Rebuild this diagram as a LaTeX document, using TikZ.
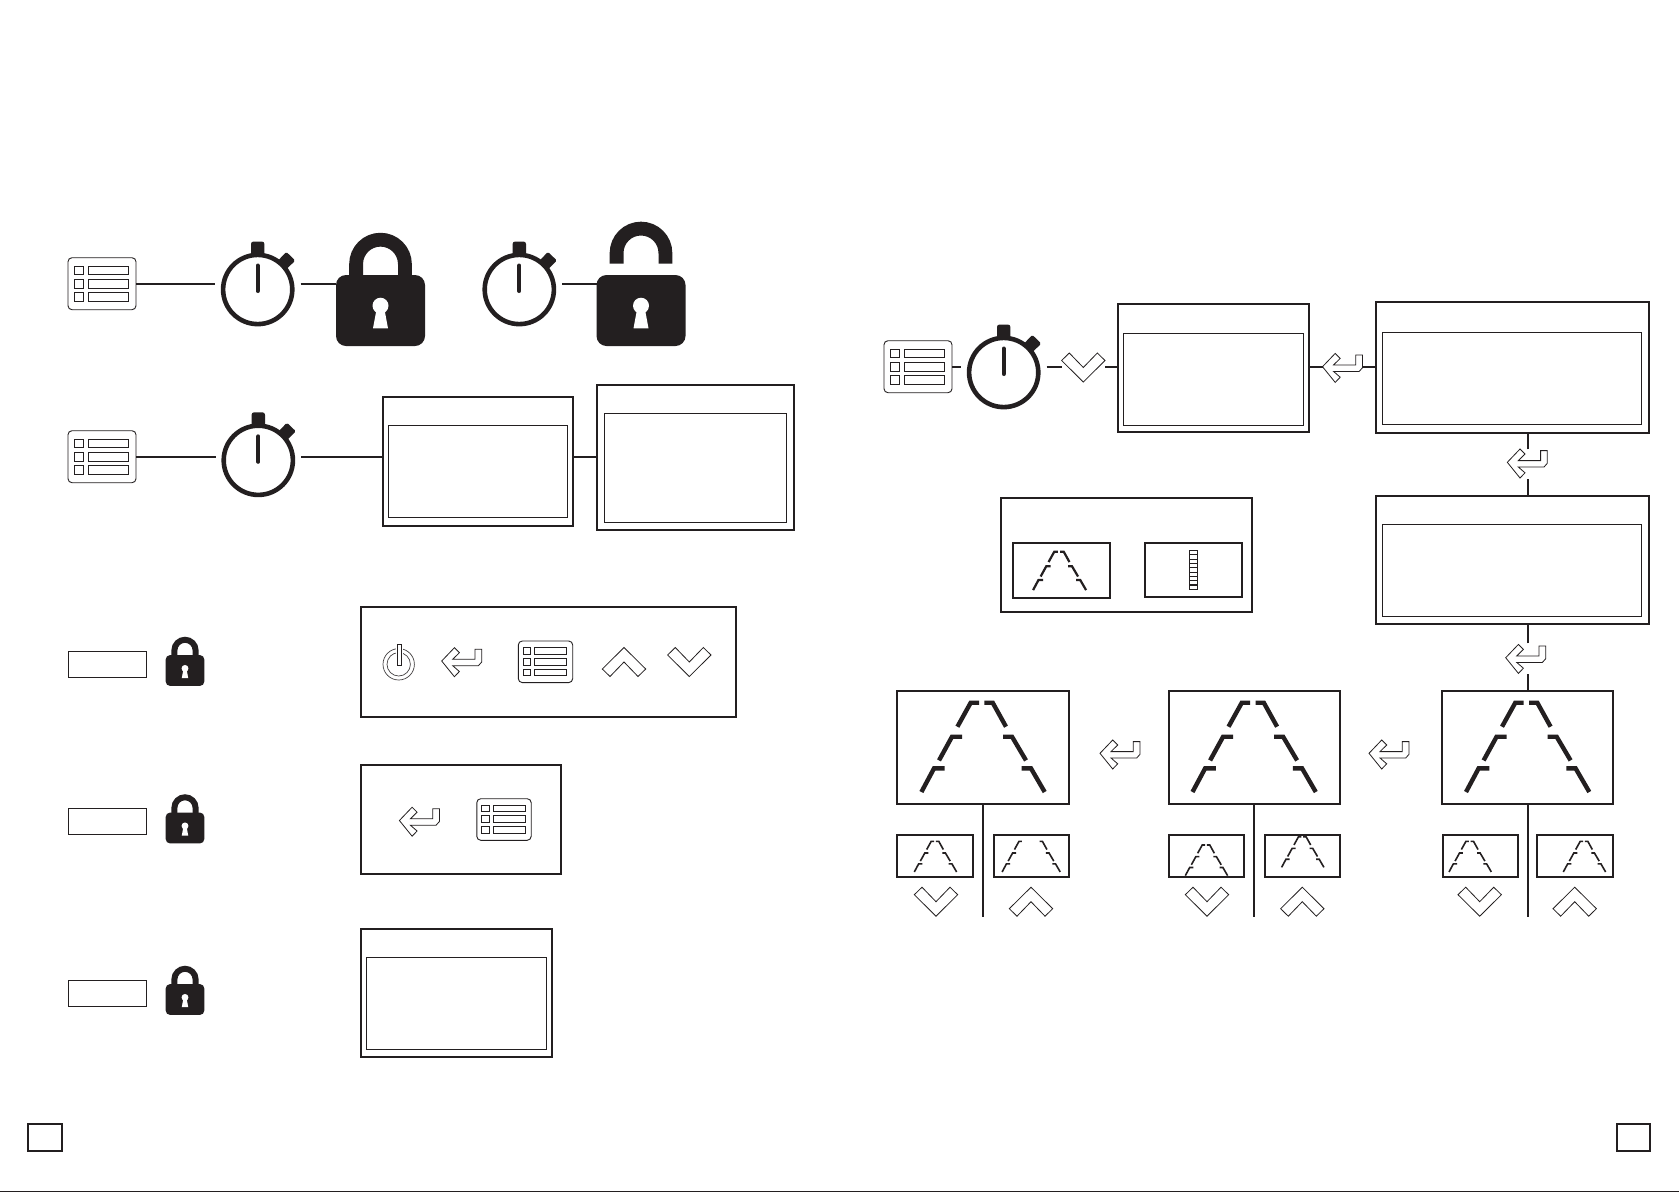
\documentclass[tikz,border=0pt]{standalone}
\usetikzlibrary{calc}
\definecolor{ink}{HTML}{231F20}
\tikzset{
  outerbox/.style={draw=ink,line width=2pt,fill=white,inner sep=0pt},
  innerbox/.style={draw=ink,line width=1pt,inner sep=0pt},
  conn/.style={draw=ink,line width=1.7pt},
  vconn/.style={draw=ink,line width=2pt},
  iconline/.style={draw=ink,line width=.8pt,fill=white,line join=miter},
  pics/menukey/.style={code={
    \draw[iconline,rounded corners=4pt,line width=.9pt] (-34,-26) rectangle (34,26);
    \foreach \ya/\yb in {-17.7/-9.7,-4.7/4.3,9/17.3}{
      \draw[ink,line width=1pt] (-27.7,\ya) rectangle (-18.3,\yb);
      \draw[ink,line width=1pt] (-13.7,\ya) rectangle (26.7,\yb);
    }
    \coordinate (-r) at (34,0);
  }},
  pics/watch/.style={code={
    \fill[ink,rounded corners=2.5pt] (-6.7,-33) -- (-6.7,-48) -- (6.7,-48) -- (6.7,-33) -- cycle;
    \fill[ink,rounded corners=1.5pt] (17,-25.4) -- (28.6,-37.6) -- (37.6,-29) -- (25.4,-17) -- cycle;
    \draw[ink,line width=4.6pt,fill=white] (0,0) circle (34.6);
    \draw[ink,line width=4pt,line cap=round] (0,-24) -- (0,1.5);
    \coordinate (-l) at (-42.7,-5.8);
    \coordinate (-r) at (42.8,-5.8);
  }},
  pics/lockclosed/.style={code={
    \begin{scope}[scale=#1]
      \draw[ink,line width={13.8pt*#1}] (-24.4,-30) -- (-24.4,-46.4) arc[start angle=180,end angle=360,radius=24.4] -- (24.4,-30);
      \fill[ink,rounded corners={10pt*#1}] (-44.5,-35.5) rectangle (44.5,35.5);
      \fill[white] (0,-4.8) circle (8);
      \fill[white] (-3.8,-2) -- (3.8,-2) -- (7.5,17.8) -- (-7.5,17.8) -- cycle;
    \end{scope}
    \coordinate (-l) at (-44.5,-26.8);
  }},
  pics/lockopen/.style={code={
    \draw[ink,line width=13.8pt] (-24.4,-47) -- (-24.4,-57.5) arc[start angle=180,end angle=360,radius=24.4] -- (24.4,-47);
    \fill[ink,rounded corners=10pt] (-44.5,-35.5) rectangle (44.5,35.5);
    \fill[white] (0,-4.8) circle (8);
    \fill[white] (-3.8,-2) -- (3.8,-2) -- (7.5,17.8) -- (-7.5,17.8) -- cycle;
    \coordinate (-l) at (-44.5,-26.8);
  }},
  pics/enterkey/.style={code={
    \draw[iconline] (0,0) -- (12.7,-13.3) -- (17.7,-8.3) -- (11,-1.7) -- (33.3,-1.7) -- (33.3,-11.7) -- (40,-11.7) -- (40,1) -- (36.7,4.7) -- (11,4.7) -- (17.7,10.5) -- (12.7,15.7) -- cycle;
    \coordinate (-l) at (0,0);
    \coordinate (-r) at (40,0);
  }},
  pics/chevup/.style={code={
    \draw[iconline] (0,-14.5) -- (-21.7,7) -- (-14,14.5) -- (0,0) -- (14,14.5) -- (21.7,7) -- cycle;
  }},
  pics/chevdown/.style={code={
    \draw[iconline] (0,14.5) -- (-21.7,-7) -- (-14,-14.5) -- (0,0) -- (14,-14.5) -- (21.7,-7) -- cycle;
    \coordinate (-l) at (-21.7,-.8);
    \coordinate (-r) at (21.7,-.8);
  }},
  pics/road/.style n args={3}{code={
    \begin{scope}[shift={(-#3,0)}]
      \begin{scope}[scale=#1]
        \draw[ink,line width=#2pt] (-24.3,24) -- (-11,0) -- (-2.7,0);
        \draw[ink,line width=#2pt] (-42.7,57.7) -- (-29.7,34) -- (-19.7,34);
        \draw[ink,line width=#2pt] (-60.3,89.3) -- (-47.7,65.7) -- (-37,65.7);
      \end{scope}
    \end{scope}
    \begin{scope}[shift={(#3,0)}]
      \begin{scope}[scale=#1]
        \draw[ink,line width=#2pt] (24.3,24) -- (11,0) -- (2.7,0);
        \draw[ink,line width=#2pt] (44.3,57.7) -- (30.3,34) -- (21.3,34);
        \draw[ink,line width=#2pt] (63,89.3) -- (49.3,65.7) -- (40,65.7);
      \end{scope}
    \end{scope}
  }},
}
\newcommand{\rectnode}[6]{%
  \pgfmathsetmacro\rcx{(#3+#5)/2}%
  \pgfmathsetmacro\rcy{(#4+#6)/2}%
  \pgfmathsetmacro\rww{#5-#3-.6}%
  \pgfmathsetmacro\rhh{#6-#4-.6}%
  \node[#1,minimum width=\rww pt,minimum height=\rhh pt] (#2) at (\rcx,\rcy) {};}
\begin{document}
\begin{tikzpicture}[x=1pt,y=-1pt]
\useasboundingbox (0,0) rectangle (1679,1192);
\fill[white] (0,0) rectangle (1679,1192);
% bottom rule and page boxes
\fill[ink] (0,1190.5) rectangle (1679,1192);
\rectnode{outerbox,line width=2.3pt}{pageL}{28}{1124}{62}{1151}
\rectnode{outerbox,line width=2.3pt}{pageR}{1616.5}{1124}{1650}{1151}

% row 1
\pic (m1) at (102,283.7) {menukey};
\pic (s1) at (257.7,289.5) {watch};
\pic (l1) at (380.5,310.5) {lockclosed=1};
\draw[conn] (m1-r) -- (m1-r -| s1-l);
\draw[conn] (s1-r) -- (l1-l);
\pic (s2) at (519.3,289.5) {watch};
\pic (l2) at (641,310.5) {lockopen};
\draw[conn] (s2-r) -- (l2-l);

% row 2
\pic (m2) at (102,456.7) {menukey};
\pic (s3) at (258.3,460.3) {watch};
\draw[conn] (m2-r) -- (m2-r -| s3-l);
\rectnode{outerbox}{a}{383}{397}{573.5}{526.5}
\rectnode{innerbox}{ai}{388}{425}{567.5}{518}
\rectnode{outerbox}{b}{596.5}{384.5}{794}{530.5}
\rectnode{innerbox}{bi}{604}{413}{787}{522.6}
\draw[conn] (m2-r -| s3-r) -- (m2-r -| a.west);
\draw[conn] (m2-r -| a.east) -- (m2-r -| b.west);

% locked rows
\rectnode{innerbox}{t1}{68.3}{651.3}{146.7}{677.3}
\pic at (185,670.5) {lockclosed=.434};
\rectnode{innerbox}{t2}{68.3}{808.2}{146.7}{834.5}
\pic at (185,828) {lockclosed=.434};
\rectnode{innerbox}{t3}{68.3}{980}{146.7}{1006.5}
\pic at (185,999.5) {lockclosed=.434};

% panel 1
\rectnode{outerbox}{p1}{360.5}{606.5}{736.5}{717.3}
\draw[ink!85,line width=.7pt] (398.7,664.3) circle (15.7);
\draw[ink!85,line width=.7pt] (398.7,664.3) circle (11.7);
\fill[white] (395.7,642) rectangle (403,666);
\draw[ink,line width=.8pt,fill=white] (397.2,644) rectangle (401.3,665.7);
\pic at (441.7,661) {enterkey};
\pic[scale=.8] at (545.5,661.8) {menukey};
\pic at (624,662) {chevup};
\pic at (689.3,662) {chevdown};

% panel 2
\rectnode{outerbox}{p2}{360.5}{764.5}{561.5}{874.5}
\pic at (399.4,820.5) {enterkey};
\pic[scale=.8] at (504,819.5) {menukey};

% panel 3
\rectnode{outerbox}{p3}{360.5}{928.4}{552.5}{1057.5}
\rectnode{innerbox}{p3i}{366}{957}{547}{1049.5}

% right top row
\pic (m3) at (918,366.7) {menukey};
\pic (s4) at (1003.7,372.5) {watch};
\pic (c1) at (1083.3,367.5) {chevdown};
\rectnode{outerbox}{c}{1117.3}{304}{1309.5}{432.6}
\rectnode{innerbox}{ci}{1123.3}{333.3}{1303.3}{425.7}
\pic (e1) at (1322.5,366.7) {enterkey};
\rectnode{outerbox}{d}{1376}{302}{1649.5}{432.8}
\rectnode{innerbox}{di}{1382.4}{332}{1641.5}{425}
\rectnode{outerbox}{e}{1376}{495.3}{1649.5}{624.5}
\rectnode{innerbox}{ei}{1382.4}{524.5}{1641.5}{616.8}
\draw[conn] (m3-r) -- (m3-r -| s4-l);
\draw[conn] (s4-r) -- (s4-r -| c1-l);
\draw[conn] (c1-r) -- (c1-r -| c.west);
\draw[conn] (e1-l -| c.east) -- (e1-l);
\draw[conn] (e1-r) -- (e1-r -| d.west);

% vertical connectors with enter keys
\coordinate (v1a) at (1527.8,449.3);
\coordinate (v1b) at (1527.8,479.3);
\coordinate (v2a) at (1527.8,643.3);
\coordinate (v2b) at (1527.8,674);
\pic at (1507.3,462.3) {enterkey};
\pic at (1505.7,657.7) {enterkey};
\draw[vconn] (v1a) -- (v1a |- d.south);
\draw[vconn] (v1b) -- (v1b |- e.north);
\draw[vconn] (v2a) -- (v2a |- e.south);

% legend box
\rectnode{outerbox}{leg}{1000.7}{497.5}{1252}{611.9}
\rectnode{outerbox}{legL}{1012.7}{542.7}{1110.3}{598.3}
\rectnode{outerbox}{legR}{1144.7}{542.7}{1242.3}{597.3}
\pic at (1059,551.7) {road={.43}{2.2}{0}};
\draw[ink,line width=.9pt] (1189.3,550.3) rectangle (1197.7,589.3);
\foreach \i in {1,...,8}{\draw[ink,line width=.9pt] (1189.3,550.3+4.33*\i) -- (1197.7,550.3+4.33*\i);}
\draw[ink,line width=1.8pt] (1189.3,585) -- (1197.7,585);

% road panels
\rectnode{outerbox}{r1}{896.3}{690.7}{1069.5}{804.5}
\rectnode{outerbox}{r2}{1168.7}{690.7}{1340.5}{804.5}
\rectnode{outerbox}{r3}{1441.7}{690.7}{1613.5}{804.5}
\pic at (981.7,702.7) {road={1}{4.4}{0}};
\pic at (1252.8,702.7) {road={1}{4.4}{0}};
\pic at (1526.3,702.7) {road={1}{4.4}{0}};
\draw[vconn] (v2b) -- (v2b |- r3.north);

\rectnode{outerbox}{r1a}{896.3}{834.7}{972.9}{877.5}
\rectnode{outerbox}{r1b}{993.3}{834.7}{1069.5}{877.5}
\pic at (935,841.3) {road={.343}{1.6}{0}};
\pic at (1030.7,841.3) {road={.343}{1.6}{7.9}};
\rectnode{outerbox}{r2a}{1168.7}{834.7}{1244.5}{877.5}
\rectnode{outerbox}{r2b}{1264.3}{834.7}{1340.5}{877.5}
\pic at (1206,845) {road={.343}{1.6}{0}};
\pic at (1302.3,836.7) {road={.343}{1.6}{0}};
\rectnode{outerbox}{r3a}{1442.7}{834.7}{1518.5}{877.5}
\rectnode{outerbox}{r3b}{1536.7}{834.7}{1612.9}{877.5}
\pic at (1469.7,841.3) {road={.343}{1.6}{0}};
\pic at (1584,841.3) {road={.343}{1.6}{0}};

\coordinate (b1) at (982.7,916.7);
\coordinate (b2) at (1253.7,916.7);
\coordinate (b3) at (1527.8,916.7);
\draw[vconn] (b1 |- r1.south) -- (b1);
\draw[vconn] (b2 |- r2.south) -- (b2);
\draw[vconn] (b3 |- r3.south) -- (b3);

\pic at (936,901.7) {chevdown};
\pic at (1031,901.7) {chevup};
\pic at (1207,901.7) {chevdown};
\pic at (1302.3,901.7) {chevup};
\pic at (1479.7,901.7) {chevdown};
\pic at (1574.7,901.7) {chevup};

\pic at (1100,753.3) {enterkey};
\pic at (1369,753.3) {enterkey};
\end{tikzpicture}
\end{document}
